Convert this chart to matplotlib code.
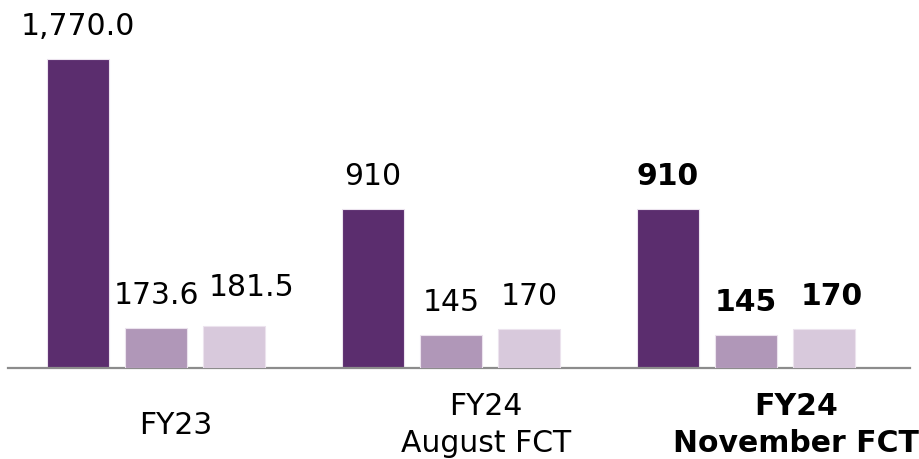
import numpy as np
import matplotlib.pyplot as plt

# data
groups = ['FY23', 'FY24\nAugust FCT', 'FY24\nNovember FCT']
series_a = [1770.0, 910, 910]
series_b = [173.6, 145, 145]
series_c = [181.5, 170, 170]
labels_a = ['1,770.0', '910', '910']
labels_b = ['173.6', '145', '145']
labels_c = ['181.5', '170', '170']
bold_group = [False, False, True]

colors = ['#5b2d6e', '#b097b8', '#d8c9dc']

fig = plt.figure(figsize=(9.19, 4.59), dpi=100)
W, H = 919, 459
# axes: x from px 8 to 910, y from px 0 (top) to 368 (baseline)
ax = fig.add_axes((8 / W, (H - 368) / H, (910 - 8) / W, 368 / H))
ax2 = ax.twinx()  # smaller series use their own scale

x = np.arange(len(groups))
off = 78 / 295
width = 62 / 295
fs = 21.5

for j, (vals, labs, col) in enumerate(zip([series_a, series_b, series_c],
                                          [labels_a, labels_b, labels_c], colors)):
    a = ax if j == 0 else ax2
    xs = x + (j - 1) * off
    a.bar(xs, vals, width=width, color=col, edgecolor='#ece3ee', linewidth=0.8)
    for i, (xx, v, t) in enumerate(zip(xs, vals, labs)):
        dx, dy = 0, 24
        if i == 0 and j == 2:   # 181.5 sits higher and to the right
            dx, dy = 18, 30
        if i == 2 and j == 2:
            dx = 8
        a.annotate(t, (xx, v), xytext=(dx * 0.72, dy * 0.72), textcoords='offset points',
                   ha='center', va='baseline', fontsize=fs,
                   fontweight='bold' if bold_group[i] else 'normal')

ax.set_xlim(-0.502, 2.556)
ax.set_ylim(0, 368 / (309 / 1770))
ax2.set_ylim(0, 368 / 0.23)
for a in (ax, ax2):
    a.set_xticks([])
    a.set_yticks([])
    for s in ['top', 'right', 'left']:
        a.spines[s].set_visible(False)
ax2.spines['bottom'].set_visible(False)
ax.spines['bottom'].set_color('#8c8c8c')
ax.spines['bottom'].set_linewidth(1.6)

# category labels under the axis
label_x = [x[0] + 0.068, x[1] + 0.119, x[2] + 0.17]
for i, (lx, g) in enumerate(zip(label_x, groups)):
    ax.text(lx, -57 / 368, g, transform=ax.get_xaxis_transform(),
            ha='center', va='center', multialignment='center', fontsize=fs,
            linespacing=1.35, fontweight='bold' if bold_group[i] else 'normal',
            clip_on=False)

plt.savefig('out.png', dpi=100)
